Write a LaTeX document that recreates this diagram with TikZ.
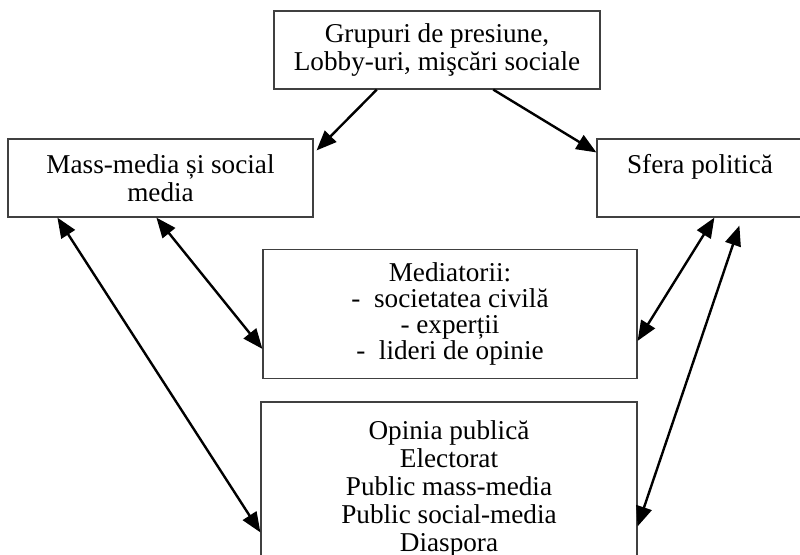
\documentclass[tikz,border=0pt]{standalone}
\usepackage{fontspec}
\setmainfont{Liberation Serif}
\usepackage{tikz}
\usetikzlibrary{calc}
\usetikzlibrary{arrows.meta}
\usetikzlibrary{positioning}
\definecolor{boxline}{RGB}{64, 64, 64}

\begin{document}
\begin{tikzpicture}[x=0.5pt, y=-0.5pt,
            box/.style={draw=boxline, line width=0.6pt, align=center, inner sep=0pt,
                        font=\fontsize{13.6}{14}\selectfont},
            link/.style={line width=1.2pt, -{Triangle[length=10pt, width=8pt]}},
            both/.style={line width=1.2pt, {Triangle[length=10pt, width=8pt]}-{Triangle[length=10pt, width=8pt]}}]
            \useasboundingbox (0,0) rectangle (800,554);
            \clip (0,0) rectangle (800,554);
            % boxes
            \node[box, minimum width=163pt, minimum height=39pt]   (grup)  at (437, 50)    {Grupuri de presiune,\\Lobby-uri, mişcări sociale};
            \node[box, minimum width=152.5pt, minimum height=39pt] (media) at (160.5, 178) {Mass-media și social\\media};
            \node[box, minimum width=103pt, minimum height=39pt]   (pol)   at (700, 178)   {Sfera politică\\\mbox{}};
            \node[box, minimum width=187pt, minimum height=64.5pt,
                  font=\fontsize{13.6}{12.9}\selectfont]            (medi)  at (450, 314)   {Mediatorii:\\-~~societatea civilă\\-~experții\\-~~lideri de opinie};
            \node[box, minimum width=188pt, minimum height=86.5pt] (opin)  at (449, 488.5) {Opinia publică\\Electorat\\Public mass-media\\Public social-media\\Diaspora};
            % arrows
            \draw[link] ($(grup.south west)!0.316!(grup.south east)$) -- ($(media.north east)+(3,12)$);
            \draw[link] ($(grup.south west)!0.672!(grup.south east)$) -- ($(pol.north west)+(0,14)$);
            \draw[both] ($(media.south west)+(50,0)$)  -- ($(opin.north west)+(0,131)$);
            \draw[both] ($(media.south west)+(149,0)$) -- ($(medi.north west)+(0,100)$);
            \draw[both] ($(pol.south west)+(118,0)$)   -- ($(medi.north east)+(0,92)$);
            \draw[both] ($(pol.south west)+(143,8)$)   -- ($(opin.north east)+(0,125)$);
\end{tikzpicture}
\end{document}
